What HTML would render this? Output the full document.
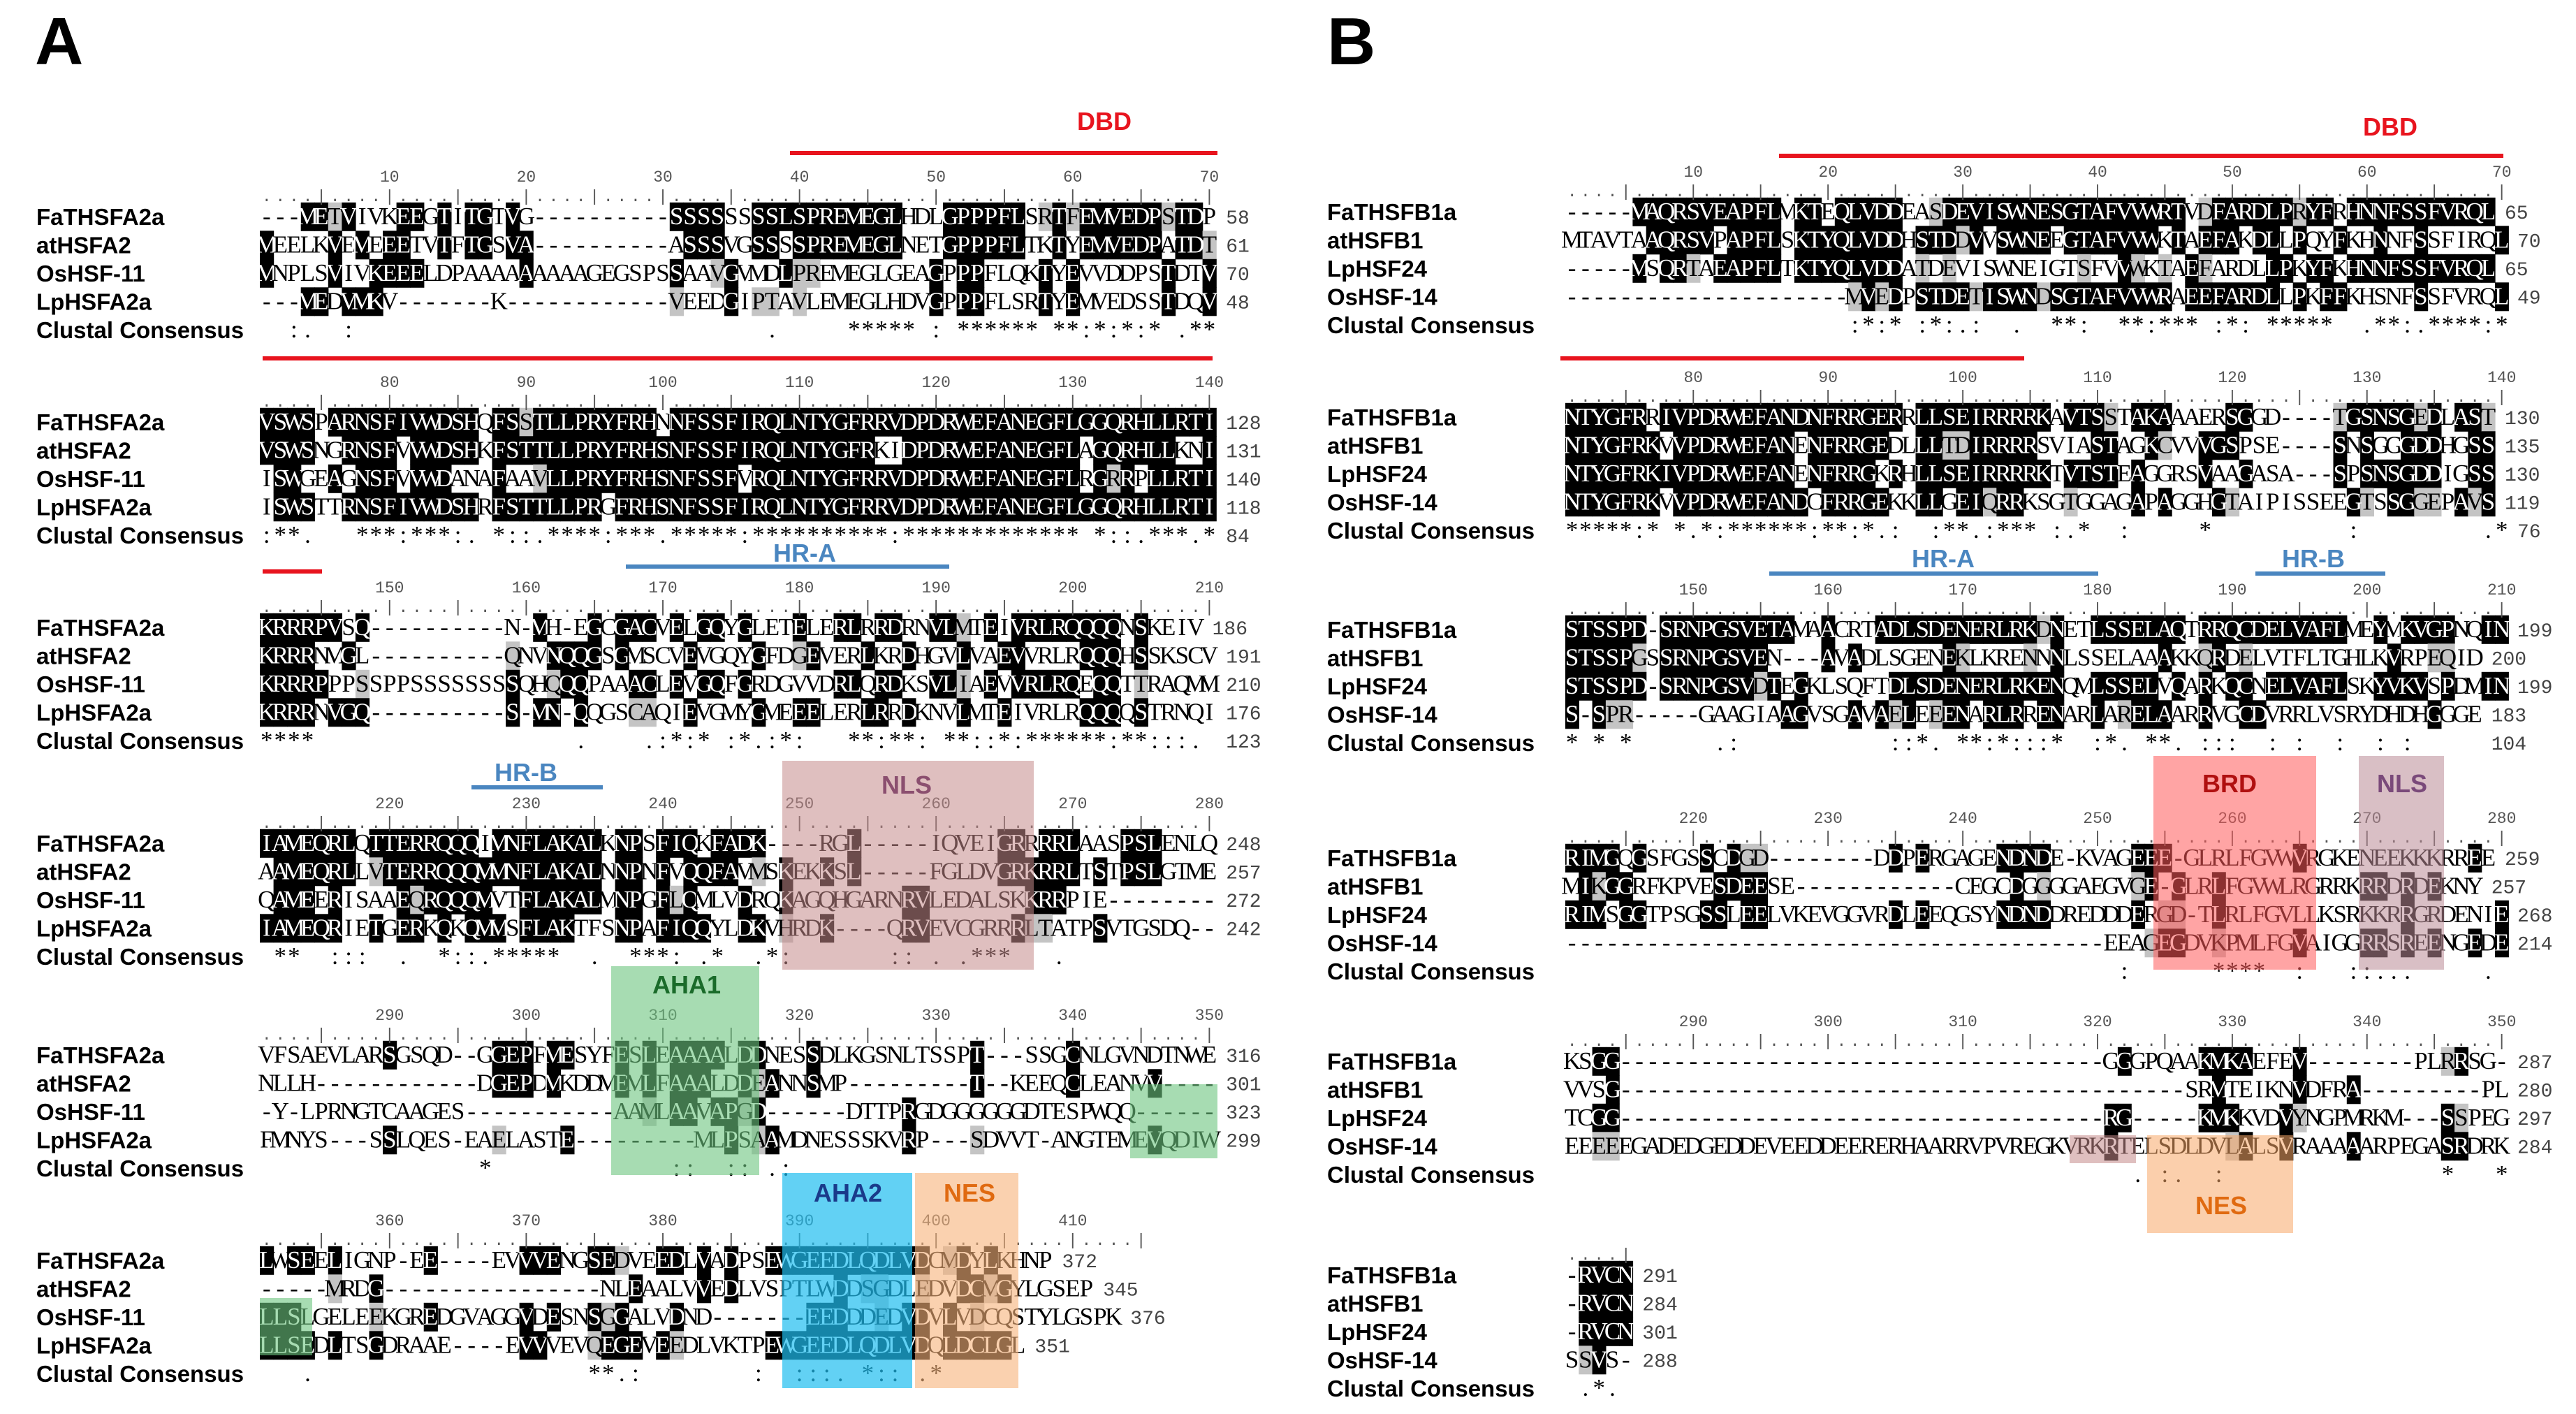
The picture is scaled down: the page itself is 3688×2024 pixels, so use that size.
<!DOCTYPE html>
<html><head><meta charset="utf-8">
<style>
html,body{margin:0;padding:0;background:#fff;}
svg{display:block;}
.nm{font-family:"Liberation Sans",sans-serif;font-weight:bold;font-size:33px;fill:#000;}
.sq{font-family:"Liberation Serif",serif;font-size:35px;}
.rl{font-family:"Liberation Mono",monospace;font-size:23px;fill:#555;}
.rn{font-family:"Liberation Mono",monospace;font-size:28px;fill:#444;}
.lab{font-family:"Liberation Sans",sans-serif;font-weight:bold;font-size:36px;}
</style></head>
<body>
<svg id="fig" width="3688" height="2024" viewBox="0 0 3688 2024" xmlns="http://www.w3.org/2000/svg">
<text x="50" y="92" font-family="Liberation Sans,sans-serif" font-weight="bold" font-size="96">A</text>
<text x="1900" y="92" font-family="Liberation Sans,sans-serif" font-weight="bold" font-size="96">B</text>
<g id="layer"></g>
</svg>
<script>
const namesA = ["FaTHSFA2a","atHSFA2","OsHSF-11","LpHSFA2a","Clustal Consensus"];
const namesB = ["FaTHSFB1a","atHSFB1","LpHSF24","OsHSF-14","Clustal Consensus"];
const blocksA = [
 ["---METVIVKEEGTITGTVG----------SSSSSSSSLSPREMEGLHDLGPPPFLSRTFEMVEDPSTDPI",
  "MEELKVEMEEETVTFTGSVA----------ASSSVGSSSSPREMEGLNETGPPPFLTKTYEMVEDPATDTV",
  "MNPLSVIVKEEELDPAAAAAAAAAGEGSPSSAAVGVMDLPREMEGLGEAGPPPFLQKTYEVVDDPSTDTV",
  "---MEDVMKV-------K------------VEEDGIPTAVLEMEGLHDVGPPPFLSRTYEMVEDSSTDQV",
  "  :.  :                              .     ***** : ****** **:*:*:* .** :"],
 ["VSWSPARNSFIVWDSHQFSSTLLPRYFRHNNFSSFIRQLNTYGFRRVDPDRWEFANEGFLGGQRHLLRTI",
  "VSWSNGRNSFVVWDSHKFSTTLLPRYFRHSNFSSFIRQLNTYGFRKIDPDRWEFANEGFLAGQRHLLKNI",
  "ISWGEAGNSFVVWDANAFAAVLLPRYFRHSNFSSFVRQLNTYGFRRVDPDRWEFANEGFLRGRRPLLRTI",
  "ISWSTTRNSFIVWDSHRFSTTLLPRGFRHSNFSSFIRQLNTYGFRRVDPDRWEFANEGFLGGQRHLLRTI",
  ":**.   ***:***:. *::.****:***.*****:**********:************* *::.***.*"],
 ["KRRRPVSQ----------N-MH-EGCGACVELGQYGLETELERLRRDRNVLMTEIVRLRQQQQNSKEIV",
  "KRRRNMGL----------QNVNQQGSGMSCVEVGQYGFDGEVERLKRDHGVLVAEVVRLRQQQHSSKSCV",
  "KRRRPPPSSPPSSSSSSSSQHQQQPAAACLEVGQFGRDGVVDRLQRDKSVLIAEVVRLRQEQQTTRAQMM",
  "KRRRNVGQ----------S-MN-QQGSCAQIEVGMYGMEEELERLRRDKNVLMTEIVRLRQQQQSTRNQI",
  "****                   .    .:*:* :*.:*:   **:**: **::*:******:**:::.  "],
 ["IAMEQRLQTTERRQQQIMNFLAKALKNPSFIQKFADK----RGL-----IQVEIGRRRRLAASPSLENLQE",
  "AAMEQRLLVTERRQQQMMNFLAKALNNPNFVQQFAVMSKEKKSL-----FGLDVGRKRRLTSTPSLGTMEE",
  "QAMEERISAAEQRQQQMVTFLAKALMNPGFLQMLVDRQKAGQHGARNRVLEDALSKKRRPIE--------",
  "IAMEQRIETGERKQKQMMSFLAKTFSNPAFIQQYLDKVHRDK----QRVEVCGRRRLTATPSVTGSDQ--",
  " **  :::  .  *::.*****  .  ***: .*  .*:       :: . .***   .           "],
 ["VFSAEVLARSGSQD--GGEPFMESYFESLEAAAALDDNESSDLKGSNLTSSPT---SSGCNLGVNDTNWED",
  "NLLH------------DGEPDMKDDMEMLFAAALDDEANNSMP---------T--KEEQCLEANVV-----",
  "-Y-LPRNGTCAAGES-----------AAMLAAVAPGD------DTTPRGDGGGGGGDTESPWQQ------",
  "FMNYS---SSLQES-EAELASTE---------MLPSAAMDNESSSKVRP---SDVVT-ANGTEMEVQDIWEE",
  "                *             ::  :: .:                               "],
 ["LWSEELIGNP-EE----EVVVENGSEDVEEDLVADPSEWGEEDLQDLVDCMDYLKHNP",
  "-----MRDG----------------NLEAALVVEDLVSPTLWDDSGDLEDVDCMGYLGSEP",
  "LLSLGELEEKGREDGVAGGVDESNSGGALVDND-------EEDDDEDVDVLVDCQSTYLGSPK",
  "LLSEDLTSGDRAAE----EVVVEVQEGEVEEDLVKTPEWGEEDLQDLVDQLDCLGL",
  "   .                    **.:        :  :::. *:: .* "]
];
const endsA = [[58,61,70,48],[128,131,140,118,84],[186,191,210,176,123],[248,257,272,242],[316,301,323,299],[372,345,376,351]];
const startsA = [10,80,150,220,290,360];
const blocksB = [
 ["-----MAQRSVEAPFLMKTEQLVDDEASDEVISWNESGTAFVVWRTVDFARDLPRYFRHNNFSSFVRQL",
  "MTAVTAAQRSVPAPFLSKTYQLVDDHSTDDVVSWNEEGTAFVVWKTAEFAKDLLPQYFKHNNFSSFIRQL",
  "-----MSQRTAEAPFLTKTYQLVDDATDEVISWNEIGTSFVVWKTAEFARDLLPKYFKHNNFSSFVRQL",
  "---------------------MVEDPSTDETISWNDSGTAFVVWRAEEFARDLLPKFFKHSNFSSFVRQL",
  "                     :*:* :*:.:  .  **:  **:*** :*: *****  .**:.****:*"],
 ["NTYGFRRIVPDRWEFANDNFRRGERRLLSEIRRRRKAVTSSTAKAAAERSGGD----TGSNSGEDLAST",
  "NTYGFRKVVPDRWEFANENFRRGEDLLLTDIRRRRSVIASTAGKCVVVGSPSE----SNSGGGDDHGSS",
  "NTYGFRKIVPDRWEFANENFRRGKRHLLSEIRRRRKTVTSTEAGGRSVAAGASA---SPSNSGDDIGSS",
  "NTYGFRKVVPDRWEFANDCFRRGEKKLLGEIQRRKSGTGGAGAPAGGHGTAIPISSEEGTSSGGEPAVS",
  "*****:* *.*:******:**:*.:  :**.:*** :.*  :     *          :         .* :"],
 ["STSSPD-SRNPGSVETAMAACRTADLSDENERLRKDNETLSSELAQTRRQCDELVAFLMEYMKVGPNQIN",
  "STSSPGSSRNPGSVEN---AVADLSGENEKLKRENNNLSSELAAAKKQRDELVTFLTGHLKVRPEQID",
  "STSSPD-SRNPGSVDTEGKLSQFTDLSDENERLRKENQMLSSELVQARKQCNELVAFLSKYVKVSPDMIN",
  "S-SPR-----GAAGIAAGVSGAVAELEEENARLRRENARLARELAARRVGCDVRRLVSRYDHDHGGGE",
  "* * *      .:           ::*. **:*:::*  :*. **. :::  : :  :  : :     "],
 ["RIMGQGSFGSSCDGD--------DDPERGAGENDNDE-KVAGEEE-GLRLFGVWVRGKENEEKKKRREE",
  "MIKGGRFKPVESDEESE------------CEGCDGGGGAEGVGE-GLRLFGVWLRGRRKRRDRDEKNY",
  "RIMSGGTPSGSSLEELVKEVGGVRDLEEQGSYNDNDDREDDDERGD-TLRLFGVLLKSRKKRRGRDENIE",
  "----------------------------------------EEAGEGDVKPMLFGVAIGGRRSREENGEDEE",
  "                                         :      ****  :   ::...     .  "],
 ["KSGG------------------------------------GGGPQAAKMKAEFEV--------PLRRSG---",
  "VVSG------------------------------------------SRMTEIKNVDFRA---------PLKRSS---",
  "TCGG------------------------------------RG-----KMKKVDVYNGPMRKM---SSPEGSS---",
  "EEEEEGADEDGEDDEVEEDDEERERHAARRVPVREGKVRKRTELSDLDVLALSVRAAAAARPEGASRDRK",
  "                                          . :.  :                *   *  "],
 ["-RVCN","-RVCN","-RVCN","SSVS-"," .*."]
];
const endsB = [[65,70,65,49],[130,135,130,119,76],[199,200,199,183,104],[259,257,268,214],[287,280,297,284],[291,284,301,288]];
const startsB = [10,80,150,220,290,null];

const NS="http://www.w3.org/2000/svg";
const layer=document.getElementById('layer');
function mk(tag,attrs,parent){const e=document.createElementNS(NS,tag);for(const k in attrs)e.setAttribute(k,attrs[k]);(parent||layer).appendChild(e);return e;}

function drawBlock(panel,bi,rows,names,ends,start,x0,cw,yc,nameX,numX){
  const g=mk('g',{});
  
  
  const rh=40.5;
  const nseq=4;
  let len=0;for(let r=0;r<nseq;r++)len=Math.max(len,rows[r].length);
  len=Math.min(len,70);
  for(let c=0;c<len;c++){
    const cnt={};
    for(let r=0;r<nseq;r++){const ch=rows[r][c];if(ch&&ch!=='-'&&ch!==' ')cnt[ch]=(cnt[ch]||0)+1;}
    let best=null,bc=0;for(const k in cnt)if(cnt[k]>bc){bc=cnt[k];best=k;}
    for(let r=0;r<nseq;r++){
      const ch=rows[r][c];
      if(!ch||ch==='-')continue;
      let fill=null;
      if(ch===best&&bc>=2)fill='#000';
      else if(bc>=2&&cnt[ch]===1&&Math.abs(ch.charCodeAt(0)-best.charCodeAt(0))<=3)fill='#c4c4c4';
      if(fill){const rc=mk('rect',{x:(x0+c*cw).toFixed(1),y:(yc+r*rh-rh/2).toFixed(1),width:(cw+0.6).toFixed(1),height:rh+0.5,fill:fill},g);
        
        }
    }
  }
  for(let r=0;r<5;r++){
    const y=yc+r*rh;
    const nt=mk('text',{x:nameX,y:y+12,class:'nm'},g);
    nt.textContent=names[r];
    
    
    const s=rows[r].slice(0,70);
    const t=mk('text',{y:y+11,class:'sq'},g);
    
    
    for(let c=0;c<s.length;c++){
      const ch=s[c]; if(ch===' ')continue;
      const ts=mk('tspan',{x:(x0+c*cw+cw/2).toFixed(1),'text-anchor':'middle'},t);
      let fill='#000';
      if(r<4&&ch!=='-'){
        const cnt={};for(let q=0;q<4;q++){const z=rows[q][c];if(z&&z!=='-')cnt[z]=(cnt[z]||0)+1;}
        let best=null,bc=0;for(const k in cnt)if(cnt[k]>bc){bc=cnt[k];best=k;}
        if(ch===best&&bc>=2)fill='#fff';
      }
      ts.setAttribute('fill',fill);
      ts.textContent=ch;
    }
    if(ends[r]!==undefined){
      const rowLen=Math.min(rows[r].length,70);
      const ex=Math.min(numX, x0+rowLen*cw+14);
      const en=mk('text',{x:ex.toFixed(1),y:y+10,class:'rn'},g);
      en.textContent=ends[r];
      
      
    }
  }
  const rl=mk('text',{y:yc-22,class:'rl'},g);
  
  
  const rlen=start===null?5:Math.min(70,Math.ceil(len/5)*5);
  for(let c=0;c<rlen;c++){const ts=mk('tspan',{x:(x0+c*cw+cw/2).toFixed(1),'text-anchor':'middle'},rl);ts.textContent=((c+1)%5===0)?'|':'.';}
  if(start!==null){
    const nk=Math.floor(rlen/10);
    for(let k=0;k<nk;k++){
      const tn=mk('text',{x:(x0+(k*10+9)*cw+cw/2).toFixed(1),y:yc-50,class:'rl','text-anchor':'middle'},g);
      tn.textContent=start+k*10;
      
      
    }
  }
}
const ycA=[310,604,898,1207,1510,1804];
const ycB=[303,597,901,1228,1519,1825];
blocksA.forEach((b,i)=>drawBlock('a',i,b,namesA,endsA[i],startsA[i],372,19.56,ycA[i],52,1757));
blocksB.forEach((b,i)=>drawBlock('b',i,b,namesB,endsB[i],startsB[i],2241,19.29,ycB[i],1900,3604));

function box(name,x,y,w,h,fill,op){const r=mk('rect',{x:x,y:y,width:w,height:h,fill:fill,opacity:op});}
function line(name,x1,x2,y,col){const l=mk('rect',{x:x1,y:y-3,width:x2-x1,height:6,fill:col});}
function lab(name,txt,x,y,col){const t=mk('text',{x:x,y:y,class:'lab',fill:col,'text-anchor':'middle'});t.textContent=txt;}
const RED='#e8141e',BLUE='#4a86c0';
line('dbd-line-a1',1131,1743,219,RED);line('dbd-line-a2',376,1736,513,RED);line('dbd-line-a3',376,461,818,RED);
lab('dbd-label-a','DBD',1581,186,RED);
line('hra-line-a',896,1359,811,BLUE);lab('hra-label-a','HR-A',1152,804,BLUE);
line('hrb-line-a',675,863,1127,BLUE);lab('hrb-label-a','HR-B',753,1118,BLUE);
box('nls-box-a',1120,1089,360,299,'#c58a8a',0.55);lab('nls-label-a','NLS',1298,1136,'#8b4f6f');
box('aha1-box-a',875,1383,212,299,'#6cc47e',0.6);lab('aha1-label-a','AHA1',983,1422,'#1a6b2a');
box('aha1-box-a2',1618,1552,125,106,'#6cc47e',0.6);
box('aha1-box-a3',372,1858,75,82,'#6cc47e',0.6);
box('aha2-box-a',1120,1679,186,308,'#20bdf0',0.7);lab('aha2-label-a','AHA2',1214,1720,'#1a3a8a');
box('nes-box-a',1310,1679,148,308,'#f7b27a',0.6);lab('nes-label-a','NES',1388,1720,'#e06a10');
line('dbd-line-b1',2547,3584,223,RED);line('dbd-line-b2',2234,2898,513,RED);
lab('dbd-label-b','DBD',3422,194,RED);
line('hra-line-b',2533,3004,821,BLUE);lab('hra-label-b','HR-A',2782,812,BLUE);
line('hrb-line-b',3229,3415,821,BLUE);lab('hrb-label-b','HR-B',3312,812,BLUE);
box('brd-box-b',3083,1082,233,306,'#ff5a5a',0.55);lab('brd-label-b','BRD',3192,1134,'#b01010');
box('nls-box-b',3377,1082,122,306,'#b98a95',0.55);lab('nls-label-b','NLS',3439,1134,'#7a4a7a');
box('nes-box-b',3074,1625,209,140,'#f7a868',0.55);lab('nes-label-b','NES',3180,1738,'#e06a10');
box('nls-tint-b',2963,1625,95,40,'#c58a8a',0.55);
</script>
</body></html>
